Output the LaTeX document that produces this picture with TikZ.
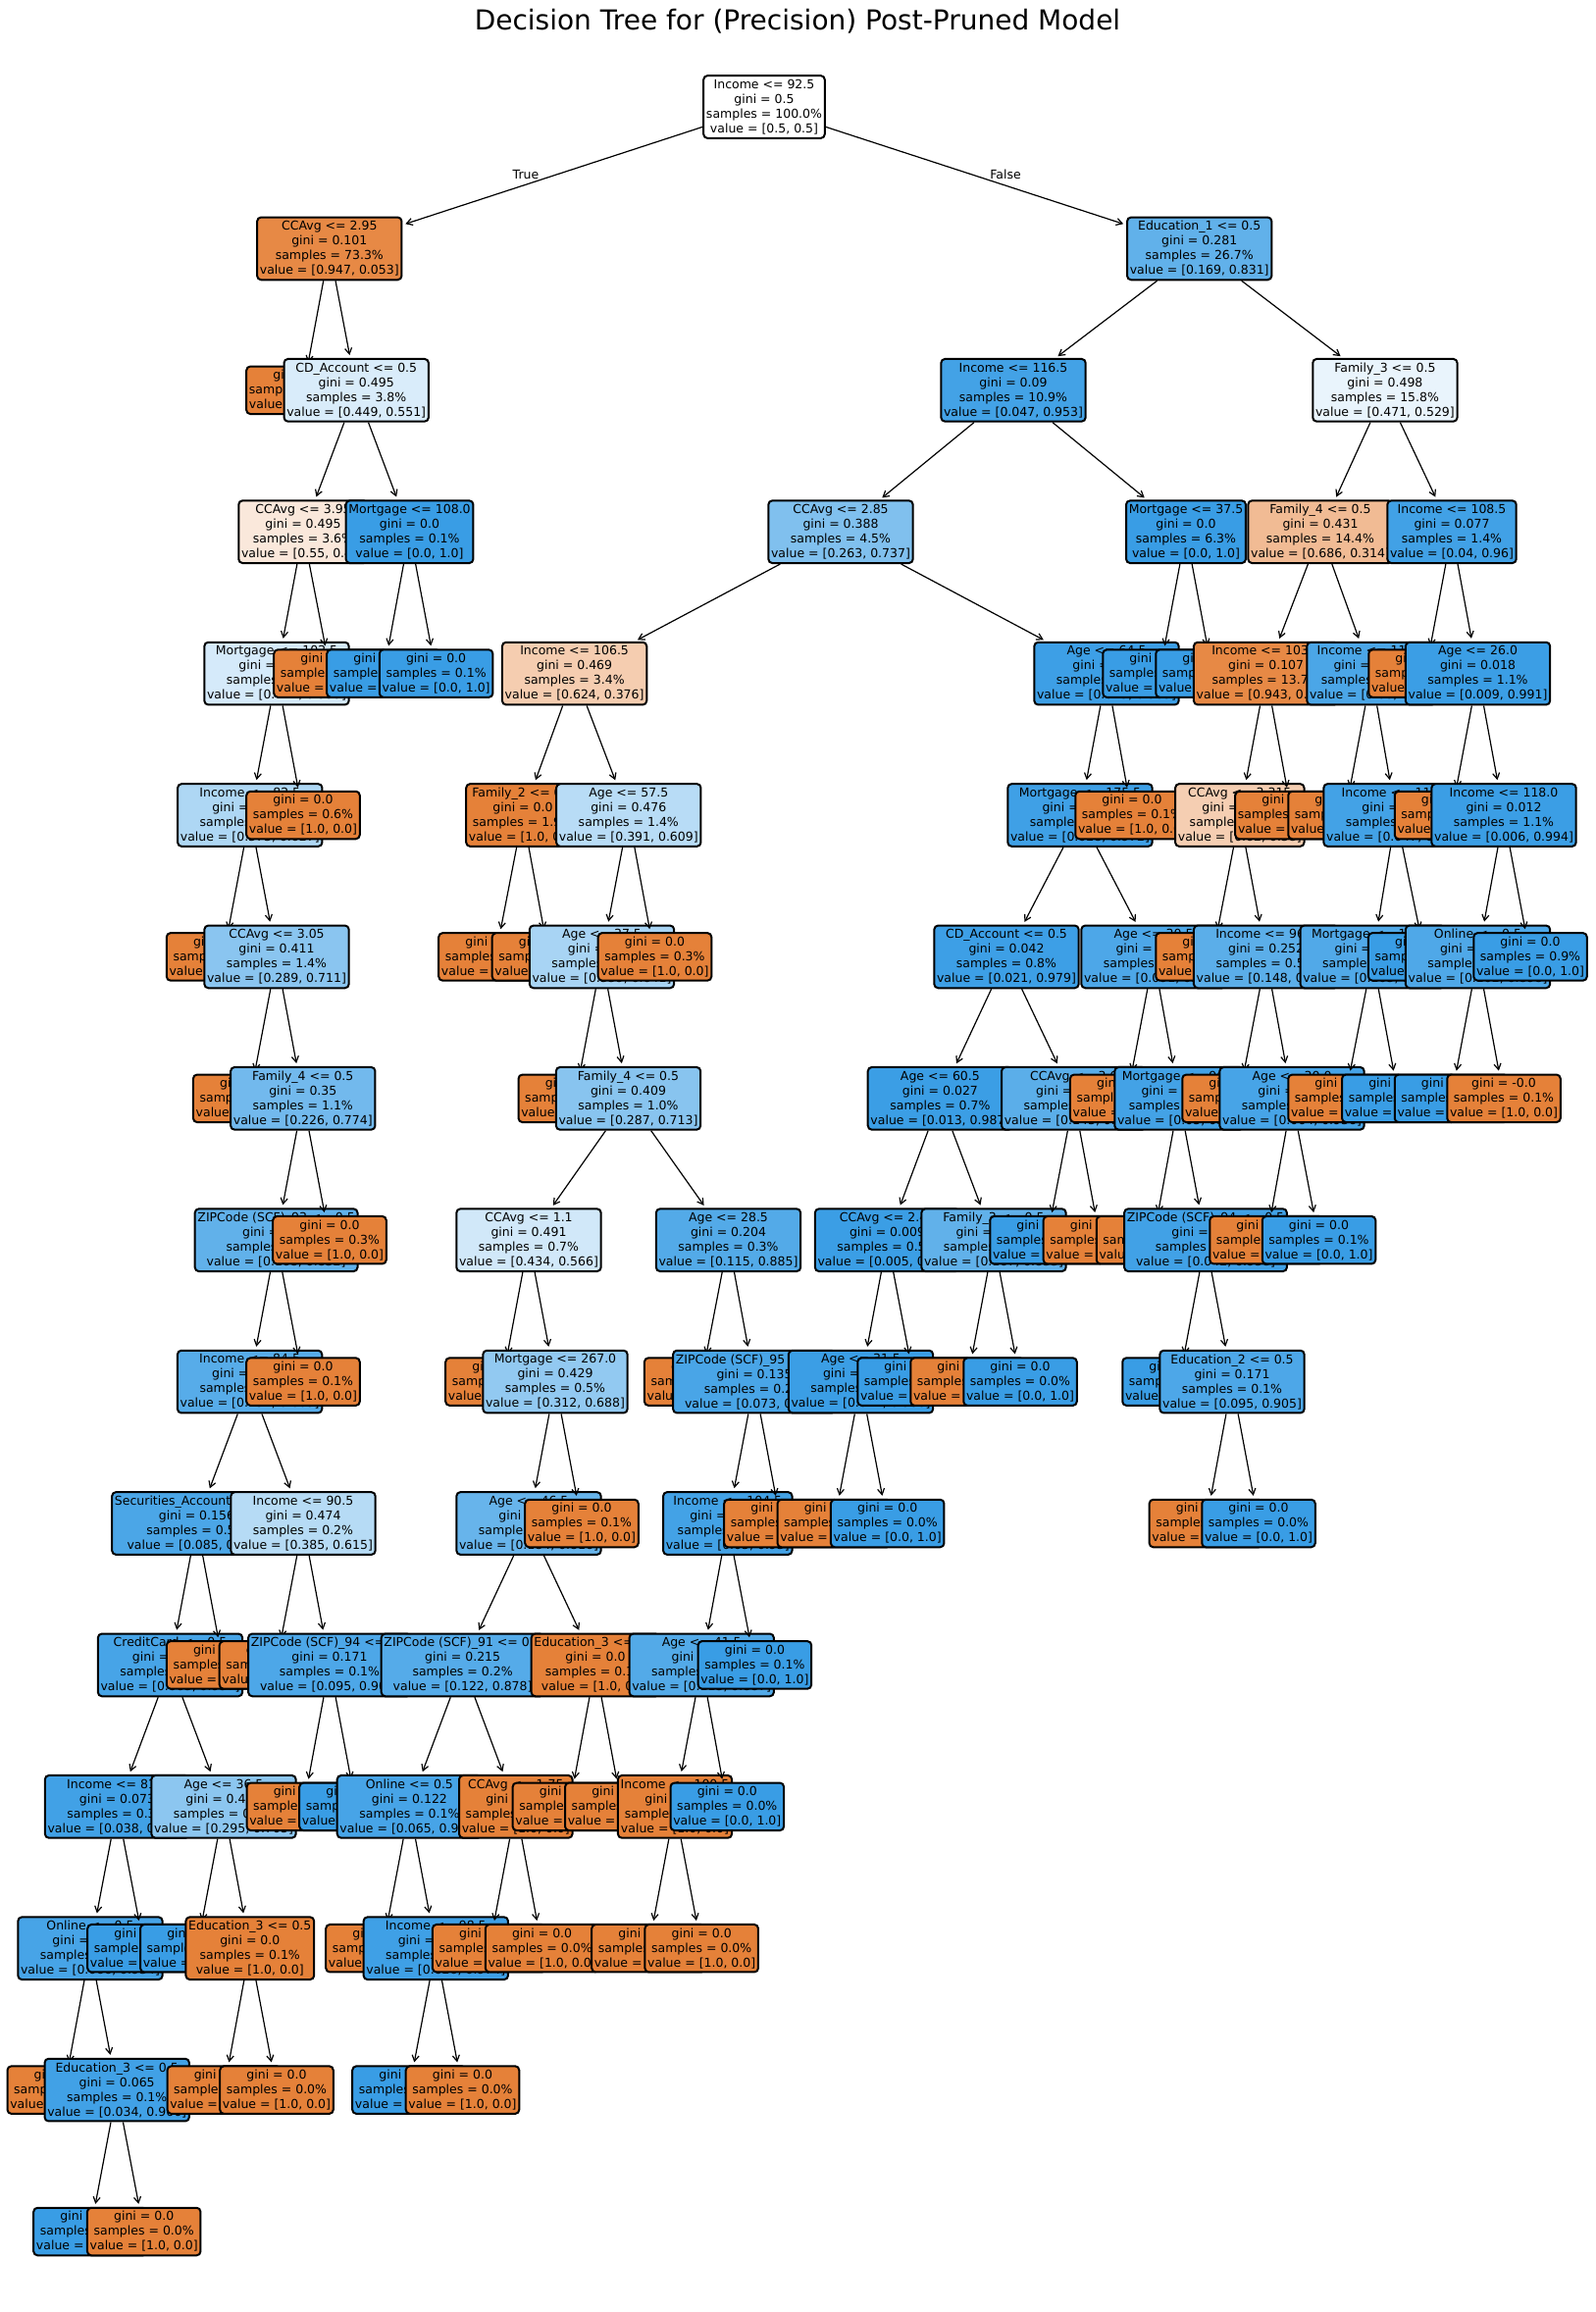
\documentclass[tikz,border=0pt]{standalone}
\usepackage{fontspec}
\setmainfont{DejaVu Sans}
\usetikzlibrary{arrows.meta}
\definecolor{orng}{RGB}{229,129,57}
\definecolor{blu}{RGB}{57,157,229}
\begin{document}
\begin{tikzpicture}[x=1pt, y=-1pt,
  box/.style={draw=black, line width=2pt, rounded corners=4pt, align=center, inner xsep=2.75pt, inner ysep=1pt, font=\fontsize{12.5}{15}\selectfont},
  split/.style={box, minimum height=63.7pt},
  leaf/.style={box, minimum height=48.5pt},
  arr/.style={-{Straight Barb[length=6pt,width=7pt]}, line width=1.2pt, shorten >=3pt},
  lbl/.style={font=\fontsize{12.5}{15}\selectfont}]
\useasboundingbox (0,0) rectangle (1626,2357);
\node[font=\fontsize{28}{33}\selectfont] (title) at (813,22) {Decision Tree for (Precision) Post-Pruned Model};
\node[split, fill=white] (inc925) at (779,109) {Income <= 92.5\\gini = 0.5\\samples = 100.0\%\\value = [0.5, 0.5]};
\node[lbl] (tTrue) at (536,178) {True};
\node[lbl] (tFalse) at (1025,178) {False};
\node[split, fill=orng!94] (cc295) at (335.8,253.4) {CCAvg <= 2.95\\gini = 0.101\\samples = 73.3\%\\value = [0.947, 0.053]};
\draw[arr] (inc925) -- (cc295);
\node[leaf, fill=orng] (lf1) at (309,397.8) {gini = 0.0\\samples = 69.5\%\\value = [1.0, 0.0]};
\draw[arr] (cc295) -- (lf1);
\node[split, fill=blu!19] (cd05a) at (363.2,397.8) {CD\_Account <= 0.5\\gini = 0.495\\samples = 3.8\%\\value = [0.449, 0.551]};
\draw[arr] (cc295) -- (cd05a);
\node[split, fill=orng!18] (cc395) at (309,542.2) {CCAvg <= 3.95\\gini = 0.495\\samples = 3.6\%\\value = [0.55, 0.45]};
\draw[arr] (cd05a) -- (cc395);
\node[split, fill=blu!21] (mo1025) at (282,686.6) {Mortgage <= 102.5\\gini = 0.493\\samples = 3.0\%\\value = [0.441, 0.559]};
\draw[arr] (cc395) -- (mo1025);
\node[split, fill=blu!41] (inc825) at (254.8,831) {Income <= 82.5\\gini = 0.468\\samples = 2.3\%\\value = [0.373, 0.627]};
\draw[arr] (mo1025) -- (inc825);
\node[leaf, fill=orng] (lf2) at (227.6,975.4) {gini = 0.0\\samples = 0.4\%\\value = [1.0, 0.0]};
\draw[arr] (inc825) -- (lf2);
\node[split, fill=blu!59] (cc305) at (282,975.4) {CCAvg <= 3.05\\gini = 0.411\\samples = 1.4\%\\value = [0.289, 0.711]};
\draw[arr] (inc825) -- (cc305);
\node[leaf, fill=orng] (lf3) at (254.7,1119.8) {gini = 0.0\\samples = 0.3\%\\value = [1.0, 0.0]};
\draw[arr] (cc305) -- (lf3);
\node[split, fill=blu!71] (fam4a) at (308.8,1119.8) {Family\_4 <= 0.5\\gini = 0.35\\samples = 1.1\%\\value = [0.226, 0.774]};
\draw[arr] (cc305) -- (fam4a);
\node[split, fill=blu!80] (zip93) at (281.6,1264.2) {ZIPCode (SCF)\_93 <= 0.5\\gini = 0.28\\samples = 0.8\%\\value = [0.168, 0.832]};
\draw[arr] (fam4a) -- (zip93);
\node[split, fill=blu!85] (inc845) at (254.6,1408.6) {Income <= 84.5\\gini = 0.228\\samples = 0.7\%\\value = [0.131, 0.869]};
\draw[arr] (zip93) -- (inc845);
\node[split, fill=blu!91] (sec05) at (200.5,1553) {Securities\_Account <= 0.5\\gini = 0.156\\samples = 0.5\%\\value = [0.085, 0.915]};
\draw[arr] (inc845) -- (sec05);
\node[split, fill=blu!93] (cred05) at (173.5,1697.4) {CreditCard <= 0.5\\gini = 0.118\\samples = 0.4\%\\value = [0.063, 0.937]};
\draw[arr] (sec05) -- (cred05);
\node[split, fill=blu!96] (inc815) at (119.5,1841.8) {Income <= 81.5\\gini = 0.073\\samples = 0.3\%\\value = [0.038, 0.962]};
\draw[arr] (cred05) -- (inc815);
\node[split, fill=blu!93] (onl05a) at (92,1986.2) {Online <= 0.5\\gini = 0.123\\samples = 0.2\%\\value = [0.066, 0.934]};
\draw[arr] (inc815) -- (onl05a);
\node[leaf, fill=orng] (lf4) at (65.3,2130.6) {gini = 0.0\\samples = 0.0\%\\value = [1.0, 0.0]};
\draw[arr] (onl05a) -- (lf4);
\node[split, fill=blu!96] (edu3a) at (119.2,2130.6) {Education\_3 <= 0.5\\gini = 0.065\\samples = 0.1\%\\value = [0.034, 0.966]};
\draw[arr] (onl05a) -- (edu3a);
\node[leaf, fill=blu] (lf5) at (92,2275) {gini = 0.0\\samples = 0.1\%\\value = [0.0, 1.0]};
\draw[arr] (edu3a) -- (lf5);
\node[leaf, fill=orng] (lf6) at (146.7,2275) {gini = 0.0\\samples = 0.0\%\\value = [1.0, 0.0]};
\draw[arr] (edu3a) -- (lf6);
\node[leaf, fill=blu] (lf7) at (147,1986.2) {gini = 0.0\\samples = 0.1\%\\value = [0.0, 1.0]};
\draw[arr] (inc815) -- (lf7);
\node[split, fill=blu!58] (age365) at (228,1841.8) {Age <= 36.5\\gini = 0.416\\samples = 0.1\%\\value = [0.295, 0.705]};
\draw[arr] (cred05) -- (age365);
\node[leaf, fill=blu] (lf8) at (200.8,1986.2) {gini = 0.0\\samples = 0.1\%\\value = [0.0, 1.0]};
\draw[arr] (age365) -- (lf8);
\node[split, fill=orng] (edu3b) at (254.8,1986.2) {Education\_3 <= 0.5\\gini = 0.0\\samples = 0.1\%\\value = [1.0, 0.0]};
\draw[arr] (age365) -- (edu3b);
\node[leaf, fill=orng] (lf9) at (228.3,2130.6) {gini = 0.0\\samples = 0.0\%\\value = [1.0, 0.0]};
\draw[arr] (edu3b) -- (lf9);
\node[leaf, fill=orng] (lf10) at (282,2130.6) {gini = 0.0\\samples = 0.0\%\\value = [1.0, 0.0]};
\draw[arr] (edu3b) -- (lf10);
\node[leaf, fill=orng] (lf11) at (227.6,1697.4) {gini = 0.0\\samples = 0.1\%\\value = [1.0, 0.0]};
\draw[arr] (sec05) -- (lf11);
\node[split, fill=blu!37] (inc905) at (309,1553) {Income <= 90.5\\gini = 0.474\\samples = 0.2\%\\value = [0.385, 0.615]};
\draw[arr] (inc845) -- (inc905);
\node[leaf, fill=orng] (lf12) at (281.5,1697.4) {gini = 0.0\\samples = 0.0\%\\value = [1.0, 0.0]};
\draw[arr] (inc905) -- (lf12);
\node[split, fill=blu!90] (zip94a) at (336,1697.4) {ZIPCode (SCF)\_94 <= 0.5\\gini = 0.171\\samples = 0.1\%\\value = [0.095, 0.905]};
\draw[arr] (inc905) -- (zip94a);
\node[leaf, fill=orng] (lf13) at (309.3,1841.8) {gini = 0.0\\samples = 0.0\%\\value = [1.0, 0.0]};
\draw[arr] (zip94a) -- (lf13);
\node[leaf, fill=blu] (lf14) at (363,1841.8) {gini = 0.0\\samples = 0.1\%\\value = [0.0, 1.0]};
\draw[arr] (zip94a) -- (lf14);
\node[leaf, fill=orng] (lf15) at (309,1408.6) {gini = 0.0\\samples = 0.1\%\\value = [1.0, 0.0]};
\draw[arr] (zip93) -- (lf15);
\node[leaf, fill=orng] (lf16) at (336,1264.2) {gini = 0.0\\samples = 0.3\%\\value = [1.0, 0.0]};
\draw[arr] (fam4a) -- (lf16);
\node[leaf, fill=orng] (lf17) at (309,831) {gini = 0.0\\samples = 0.6\%\\value = [1.0, 0.0]};
\draw[arr] (mo1025) -- (lf17);
\node[leaf, fill=orng] (lf18) at (337,686.6) {gini = 0.0\\samples = 0.6\%\\value = [1.0, 0.0]};
\draw[arr] (cc395) -- (lf18);
\node[split, fill=blu] (mo108) at (417.5,542.2) {Mortgage <= 108.0\\gini = 0.0\\samples = 0.1\%\\value = [0.0, 1.0]};
\draw[arr] (cd05a) -- (mo108);
\node[leaf, fill=blu] (lf19) at (391,686.6) {gini = 0.0\\samples = 0.1\%\\value = [0.0, 1.0]};
\draw[arr] (mo108) -- (lf19);
\node[leaf, fill=blu] (lf20) at (444.6,686.6) {gini = 0.0\\samples = 0.1\%\\value = [0.0, 1.0]};
\draw[arr] (mo108) -- (lf20);
\node[split, fill=blu!80] (edu1) at (1222.7,253.4) {Education\_1 <= 0.5\\gini = 0.281\\samples = 26.7\%\\value = [0.169, 0.831]};
\draw[arr] (inc925) -- (edu1);
\node[split, fill=blu!95] (inc1165) at (1033,397.8) {Income <= 116.5\\gini = 0.09\\samples = 10.9\%\\value = [0.047, 0.953]};
\draw[arr] (edu1) -- (inc1165);
\node[split, fill=blu!64] (cc285) at (857,542.2) {CCAvg <= 2.85\\gini = 0.388\\samples = 4.5\%\\value = [0.263, 0.737]};
\draw[arr] (inc1165) -- (cc285);
\node[split, fill=orng!40] (inc1065) at (585.6,686.6) {Income <= 106.5\\gini = 0.469\\samples = 3.4\%\\value = [0.624, 0.376]};
\draw[arr] (cc285) -- (inc1065);
\node[split, fill=orng] (fam2) at (533,831) {Family\_2 <= 0.5\\gini = 0.0\\samples = 1.9\%\\value = [1.0, 0.0]};
\draw[arr] (inc1065) -- (fam2);
\node[leaf, fill=orng] (lf21) at (505,975.4) {gini = 0.0\\samples = 1.4\%\\value = [1.0, 0.0]};
\draw[arr] (fam2) -- (lf21);
\node[leaf, fill=orng] (lf22) at (559.5,975.4) {gini = 0.0\\samples = 0.5\%\\value = [1.0, 0.0]};
\draw[arr] (fam2) -- (lf22);
\node[split, fill=blu!36] (age575) at (640.8,831) {Age <= 57.5\\gini = 0.476\\samples = 1.4\%\\value = [0.391, 0.609]};
\draw[arr] (inc1065) -- (age575);
\node[split, fill=blu!44] (age375) at (613.5,975.4) {Age <= 37.5\\gini = 0.46\\samples = 1.1\%\\value = [0.359, 0.641]};
\draw[arr] (age575) -- (age375);
\node[leaf, fill=orng] (lf23) at (586.3,1119.8) {gini = 0.0\\samples = 0.1\%\\value = [1.0, 0.0]};
\draw[arr] (age375) -- (lf23);
\node[split, fill=blu!60] (fam4b) at (640.5,1119.8) {Family\_4 <= 0.5\\gini = 0.409\\samples = 1.0\%\\value = [0.287, 0.713]};
\draw[arr] (age375) -- (fam4b);
\node[split, fill=blu!23] (cc11) at (539,1264.2) {CCAvg <= 1.1\\gini = 0.491\\samples = 0.7\%\\value = [0.434, 0.566]};
\draw[arr] (fam4b) -- (cc11);
\node[leaf, fill=orng] (lf24) at (512,1408.6) {gini = 0.0\\samples = 0.2\%\\value = [1.0, 0.0]};
\draw[arr] (cc11) -- (lf24);
\node[split, fill=blu!55] (mo267) at (566,1408.6) {Mortgage <= 267.0\\gini = 0.429\\samples = 0.5\%\\value = [0.312, 0.688]};
\draw[arr] (cc11) -- (mo267);
\node[split, fill=blu!77] (age465) at (539,1553) {Age <= 46.5\\gini = 0.3\\samples = 0.4\%\\value = [0.184, 0.816]};
\draw[arr] (mo267) -- (age465);
\node[split, fill=blu!86] (zip91) at (471.6,1697.4) {ZIPCode (SCF)\_91 <= 0.5\\gini = 0.215\\samples = 0.2\%\\value = [0.122, 0.878]};
\draw[arr] (age465) -- (zip91);
\node[split, fill=blu!93] (onl05b) at (417.4,1841.8) {Online <= 0.5\\gini = 0.122\\samples = 0.1\%\\value = [0.065, 0.935]};
\draw[arr] (zip91) -- (onl05b);
\node[leaf, fill=orng] (lf25) at (390,1986.2) {gini = 0.0\\samples = 0.0\%\\value = [1.0, 0.0]};
\draw[arr] (onl05b) -- (lf25);
\node[split, fill=blu!97] (inc985) at (444.3,1986.2) {Income <= 98.5\\gini = 0.051\\samples = 0.1\%\\value = [0.026, 0.974]};
\draw[arr] (onl05b) -- (inc985);
\node[leaf, fill=blu] (lf26) at (417,2130.6) {gini = 0.0\\samples = 0.1\%\\value = [0.0, 1.0]};
\draw[arr] (inc985) -- (lf26);
\node[leaf, fill=orng] (lf27) at (471.5,2130.6) {gini = 0.0\\samples = 0.0\%\\value = [1.0, 0.0]};
\draw[arr] (inc985) -- (lf27);
\node[split, fill=orng] (cc175) at (525.8,1841.8) {CCAvg <= 1.75\\gini = 0.0\\samples = 0.0\%\\value = [1.0, 0.0]};
\draw[arr] (zip91) -- (cc175);
\node[leaf, fill=orng] (lf28) at (498.7,1986.2) {gini = 0.0\\samples = 0.0\%\\value = [1.0, 0.0]};
\draw[arr] (cc175) -- (lf28);
\node[leaf, fill=orng] (lf29) at (552.6,1986.2) {gini = 0.0\\samples = 0.0\%\\value = [1.0, 0.0]};
\draw[arr] (cc175) -- (lf29);
\node[split, fill=orng] (edu3c) at (607,1697.4) {Education\_3 <= 0.5\\gini = 0.0\\samples = 0.1\%\\value = [1.0, 0.0]};
\draw[arr] (age465) -- (edu3c);
\node[leaf, fill=orng] (lf30) at (580.4,1841.8) {gini = 0.0\\samples = 0.1\%\\value = [1.0, 0.0]};
\draw[arr] (edu3c) -- (lf30);
\node[leaf, fill=orng] (lf31) at (633.8,1841.8) {gini = 0.0\\samples = 0.0\%\\value = [1.0, 0.0]};
\draw[arr] (edu3c) -- (lf31);
\node[leaf, fill=orng] (lf32) at (593,1553) {gini = 0.0\\samples = 0.1\%\\value = [1.0, 0.0]};
\draw[arr] (mo267) -- (lf32);
\node[split, fill=blu!87] (age285) at (742.5,1264.2) {Age <= 28.5\\gini = 0.204\\samples = 0.3\%\\value = [0.115, 0.885]};
\draw[arr] (fam4b) -- (age285);
\node[leaf, fill=orng] (lf33) at (714.7,1408.6) {gini = 0.0\\samples = 0.0\%\\value = [1.0, 0.0]};
\draw[arr] (age285) -- (lf33);
\node[split, fill=blu!92] (zip95) at (769,1408.6) {ZIPCode (SCF)\_95 <= 0.5\\gini = 0.135\\samples = 0.2\%\\value = [0.073, 0.927]};
\draw[arr] (age285) -- (zip95);
\node[split, fill=blu!95] (inc1045) at (741.8,1553) {Income <= 104.5\\gini = 0.095\\samples = 0.2\%\\value = [0.05, 0.95]};
\draw[arr] (zip95) -- (inc1045);
\node[split, fill=blu!87] (age415) at (715.2,1697.4) {Age <= 41.5\\gini = 0.2\\samples = 0.1\%\\value = [0.113, 0.887]};
\draw[arr] (inc1045) -- (age415);
\node[split, fill=orng] (inc1005) at (688,1841.8) {Income <= 100.5\\gini = 0.0\\samples = 0.0\%\\value = [1.0, 0.0]};
\draw[arr] (age415) -- (inc1005);
\node[leaf, fill=orng] (lf34) at (661,1986.2) {gini = 0.0\\samples = 0.0\%\\value = [1.0, 0.0]};
\draw[arr] (inc1005) -- (lf34);
\node[leaf, fill=orng] (lf35) at (715.2,1986.2) {gini = 0.0\\samples = 0.0\%\\value = [1.0, 0.0]};
\draw[arr] (inc1005) -- (lf35);
\node[leaf, fill=blu] (lf36) at (741.3,1841.8) {gini = 0.0\\samples = 0.0\%\\value = [0.0, 1.0]};
\draw[arr] (age415) -- (lf36);
\node[leaf, fill=blu] (lf37) at (769.4,1697.4) {gini = 0.0\\samples = 0.1\%\\value = [0.0, 1.0]};
\draw[arr] (inc1045) -- (lf37);
\node[leaf, fill=orng] (lf38) at (796,1553) {gini = 0.0\\samples = 0.0\%\\value = [1.0, 0.0]};
\draw[arr] (zip95) -- (lf38);
\node[leaf, fill=orng] (lf39) at (667.5,975.4) {gini = 0.0\\samples = 0.3\%\\value = [1.0, 0.0]};
\draw[arr] (age575) -- (lf39);
\node[split, fill=blu!98] (age645) at (1128,686.6) {Age <= 64.5\\gini = 0.03\\samples = 1.1\%\\value = [0.015, 0.985]};
\draw[arr] (cc285) -- (age645);
\node[split, fill=blu!97] (mo1755) at (1101,831) {Mortgage <= 175.5\\gini = 0.054\\samples = 1.0\%\\value = [0.028, 0.972]};
\draw[arr] (age645) -- (mo1755);
\node[split, fill=blu!98] (cd05b) at (1026,975.4) {CD\_Account <= 0.5\\gini = 0.042\\samples = 0.8\%\\value = [0.021, 0.979]};
\draw[arr] (mo1755) -- (cd05b);
\node[split, fill=blu!99] (age605) at (958.4,1119.8) {Age <= 60.5\\gini = 0.027\\samples = 0.7\%\\value = [0.013, 0.987]};
\draw[arr] (cd05b) -- (age605);
\node[split, fill=blu!99] (cc245) at (904.5,1264.2) {CCAvg <= 2.45\\gini = 0.009\\samples = 0.5\%\\value = [0.005, 0.995]};
\draw[arr] (age605) -- (cc245);
\node[split, fill=blu!99] (age315) at (877.5,1408.6) {Age <= 31.5\\gini = 0.024\\samples = 0.2\%\\value = [0.012, 0.988]};
\draw[arr] (cc245) -- (age315);
\node[leaf, fill=orng] (lf40) at (850.3,1553) {gini = 0.0\\samples = 0.0\%\\value = [1.0, 0.0]};
\draw[arr] (age315) -- (lf40);
\node[leaf, fill=blu] (lf41) at (904.7,1553) {gini = 0.0\\samples = 0.0\%\\value = [0.0, 1.0]};
\draw[arr] (age315) -- (lf41);
\node[leaf, fill=blu] (lf42) at (932,1408.6) {gini = 0.0\\samples = 0.3\%\\value = [0.0, 1.0]};
\draw[arr] (cc245) -- (lf42);
\node[split, fill=blu!80] (fam3a) at (1013,1264.2) {Family\_3 <= 0.5\\gini = 0.278\\samples = 0.1\%\\value = [0.167, 0.833]};
\draw[arr] (age605) -- (fam3a);
\node[leaf, fill=orng] (lf43) at (986,1408.6) {gini = 0.0\\samples = 0.0\%\\value = [1.0, 0.0]};
\draw[arr] (fam3a) -- (lf43);
\node[leaf, fill=blu] (lf44) at (1040,1408.6) {gini = 0.0\\samples = 0.0\%\\value = [0.0, 1.0]};
\draw[arr] (fam3a) -- (lf44);
\node[split, fill=blu!83] (cc36) at (1094.7,1119.8) {CCAvg <= 3.6\\gini = 0.245\\samples = 0.1\%\\value = [0.143, 0.857]};
\draw[arr] (cd05b) -- (cc36);
\node[leaf, fill=blu] (lf45) at (1067,1264.2) {gini = 0.0\\samples = 0.1\%\\value = [0.0, 1.0]};
\draw[arr] (cc36) -- (lf45);
\node[leaf, fill=orng] (lf46) at (1121.4,1264.2) {gini = 0.0\\samples = 0.0\%\\value = [1.0, 0.0]};
\draw[arr] (cc36) -- (lf46);
\node[split, fill=blu!90] (age305) at (1176,975.4) {Age <= 30.5\\gini = 0.165\\samples = 0.2\%\\value = [0.091, 0.909]};
\draw[arr] (mo1755) -- (age305);
\node[leaf, fill=orng] (lf47) at (1148.7,1119.8) {gini = 0.0\\samples = 0.0\%\\value = [1.0, 0.0]};
\draw[arr] (age305) -- (lf47);
\node[split, fill=blu!95] (mo965) at (1202,1119.8) {Mortgage <= 96.5\\gini = 0.095\\samples = 0.1\%\\value = [0.05, 0.95]};
\draw[arr] (age305) -- (mo965);
\node[leaf, fill=orng] (lf48) at (1175.5,1264.2) {gini = 0.0\\samples = 0.0\%\\value = [1.0, 0.0]};
\draw[arr] (mo965) -- (lf48);
\node[split, fill=blu!96] (zip94b) at (1229,1264.2) {ZIPCode (SCF)\_94 <= 0.5\\gini = 0.08\\samples = 0.1\%\\value = [0.042, 0.958]};
\draw[arr] (mo965) -- (zip94b);
\node[leaf, fill=blu] (lf49) at (1202,1408.6) {gini = 0.0\\samples = 0.1\%\\value = [0.0, 1.0]};
\draw[arr] (zip94b) -- (lf49);
\node[split, fill=blu!90] (edu2) at (1256,1408.6) {Education\_2 <= 0.5\\gini = 0.171\\samples = 0.1\%\\value = [0.095, 0.905]};
\draw[arr] (zip94b) -- (edu2);
\node[leaf, fill=orng] (lf50) at (1229.4,1553) {gini = 0.0\\samples = 0.0\%\\value = [1.0, 0.0]};
\draw[arr] (edu2) -- (lf50);
\node[leaf, fill=blu] (lf51) at (1283,1553) {gini = 0.0\\samples = 0.0\%\\value = [0.0, 1.0]};
\draw[arr] (edu2) -- (lf51);
\node[leaf, fill=orng] (lf52) at (1154,831) {gini = 0.0\\samples = 0.1\%\\value = [1.0, 0.0]};
\draw[arr] (age645) -- (lf52);
\node[split, fill=blu] (mo375) at (1209,542.2) {Mortgage <= 37.5\\gini = 0.0\\samples = 6.3\%\\value = [0.0, 1.0]};
\draw[arr] (inc1165) -- (mo375);
\node[leaf, fill=blu] (lf53) at (1182,686.6) {gini = 0.0\\samples = 4.8\%\\value = [0.0, 1.0]};
\draw[arr] (mo375) -- (lf53);
\node[leaf, fill=blu] (lf54) at (1236,686.6) {gini = 0.0\\samples = 1.5\%\\value = [0.0, 1.0]};
\draw[arr] (mo375) -- (lf54);
\node[split, fill=blu!11] (fam3b) at (1411.9,397.8) {Family\_3 <= 0.5\\gini = 0.498\\samples = 15.8\%\\value = [0.471, 0.529]};
\draw[arr] (edu1) -- (fam3b);
\node[split, fill=orng!54] (fam4c) at (1346,542.2) {Family\_4 <= 0.5\\gini = 0.431\\samples = 14.4\%\\value = [0.686, 0.314]};
\draw[arr] (fam3b) -- (fam4c);
\node[split, fill=orng!94] (inc1035) at (1290.6,686.6) {Income <= 103.5\\gini = 0.107\\samples = 13.7\%\\value = [0.943, 0.057]};
\draw[arr] (fam4c) -- (inc1035);
\node[split, fill=orng!39] (cc3315) at (1263.8,831) {CCAvg <= 3.315\\gini = 0.471\\samples = 0.9\%\\value = [0.62, 0.38]};
\draw[arr] (inc1035) -- (cc3315);
\node[leaf, fill=orng] (lf55) at (1236,975.4) {gini = 0.0\\samples = 0.4\%\\value = [1.0, 0.0]};
\draw[arr] (cc3315) -- (lf55);
\node[split, fill=blu!83] (inc965) at (1290.6,975.4) {Income <= 96.5\\gini = 0.252\\samples = 0.5\%\\value = [0.148, 0.852]};
\draw[arr] (cc3315) -- (inc965);
\node[leaf, fill=orng] (lf56) at (1263,1119.8) {gini = 0.0\\samples = 0.1\%\\value = [1.0, 0.0]};
\draw[arr] (inc965) -- (lf56);
\node[split, fill=blu!93] (age300) at (1317,1119.8) {Age <= 30.0\\gini = 0.12\\samples = 0.4\%\\value = [0.064, 0.936]};
\draw[arr] (inc965) -- (age300);
\node[leaf, fill=orng] (lf57) at (1291,1264.2) {gini = 0.0\\samples = 0.0\%\\value = [1.0, 0.0]};
\draw[arr] (age300) -- (lf57);
\node[leaf, fill=blu] (lf58) at (1344.5,1264.2) {gini = 0.0\\samples = 0.1\%\\value = [0.0, 1.0]};
\draw[arr] (age300) -- (lf58);
\node[leaf, fill=orng] (lf59) at (1317,831) {gini = 0.0\\samples = 12.8\%\\value = [1.0, 0.0]};
\draw[arr] (inc1035) -- (lf59);
\node[split, fill=blu!91] (inc1135) at (1398,686.6) {Income <= 113.5\\gini = 0.147\\samples = 0.7\%\\value = [0.08, 0.92]};
\draw[arr] (fam4c) -- (inc1135);
\node[leaf, fill=orng] (lf60) at (1371,831) {gini = 0.0\\samples = 0.1\%\\value = [1.0, 0.0]};
\draw[arr] (inc1135) -- (lf60);
\node[split, fill=blu!95] (inc1160) at (1423,831) {Income <= 116.0\\gini = 0.09\\samples = 0.6\%\\value = [0.047, 0.953]};
\draw[arr] (inc1135) -- (inc1160);
\node[split, fill=blu!88] (mo1260) at (1399.2,975.4) {Mortgage <= 126.0\\gini = 0.188\\samples = 0.2\%\\value = [0.105, 0.895]};
\draw[arr] (inc1160) -- (mo1260);
\node[leaf, fill=orng] (lf61) at (1371,1119.8) {gini = 0.0\\samples = 0.0\%\\value = [1.0, 0.0]};
\draw[arr] (mo1260) -- (lf61);
\node[leaf, fill=blu] (lf62) at (1425.8,1119.8) {gini = 0.0\\samples = 0.1\%\\value = [0.0, 1.0]};
\draw[arr] (mo1260) -- (lf62);
\node[leaf, fill=blu] (lf63) at (1452.7,975.4) {gini = 0.0\\samples = 0.4\%\\value = [0.0, 1.0]};
\draw[arr] (inc1160) -- (lf63);
\node[split, fill=blu!96] (inc1085) at (1480,542.2) {Income <= 108.5\\gini = 0.077\\samples = 1.4\%\\value = [0.04, 0.96]};
\draw[arr] (fam3b) -- (inc1085);
\node[leaf, fill=orng] (lf64) at (1453,686.6) {gini = 0.0\\samples = 0.3\%\\value = [1.0, 0.0]};
\draw[arr] (inc1085) -- (lf64);
\node[split, fill=blu!99] (age260) at (1506.5,686.6) {Age <= 26.0\\gini = 0.018\\samples = 1.1\%\\value = [0.009, 0.991]};
\draw[arr] (inc1085) -- (age260);
\node[leaf, fill=orng] (lf65) at (1479.5,831) {gini = 0.0\\samples = 0.0\%\\value = [1.0, 0.0]};
\draw[arr] (age260) -- (lf65);
\node[split, fill=blu!99] (inc1180) at (1533,831) {Income <= 118.0\\gini = 0.012\\samples = 1.1\%\\value = [0.006, 0.994]};
\draw[arr] (age260) -- (inc1180);
\node[split, fill=blu!89] (onl05c) at (1506.5,975.4) {Online <= 0.5\\gini = 0.183\\samples = 0.2\%\\value = [0.102, 0.898]};
\draw[arr] (inc1180) -- (onl05c);
\node[leaf, fill=blu] (lf66) at (1479.5,1119.8) {gini = 0.0\\samples = 0.1\%\\value = [0.0, 1.0]};
\draw[arr] (onl05c) -- (lf66);
\node[leaf, fill=orng] (lf67) at (1533,1119.8) {gini = -0.0\\samples = 0.1\%\\value = [1.0, 0.0]};
\draw[arr] (onl05c) -- (lf67);
\node[leaf, fill=blu] (lf68) at (1560,975.4) {gini = 0.0\\samples = 0.9\%\\value = [0.0, 1.0]};
\draw[arr] (inc1180) -- (lf68);
\end{tikzpicture}
\end{document}
